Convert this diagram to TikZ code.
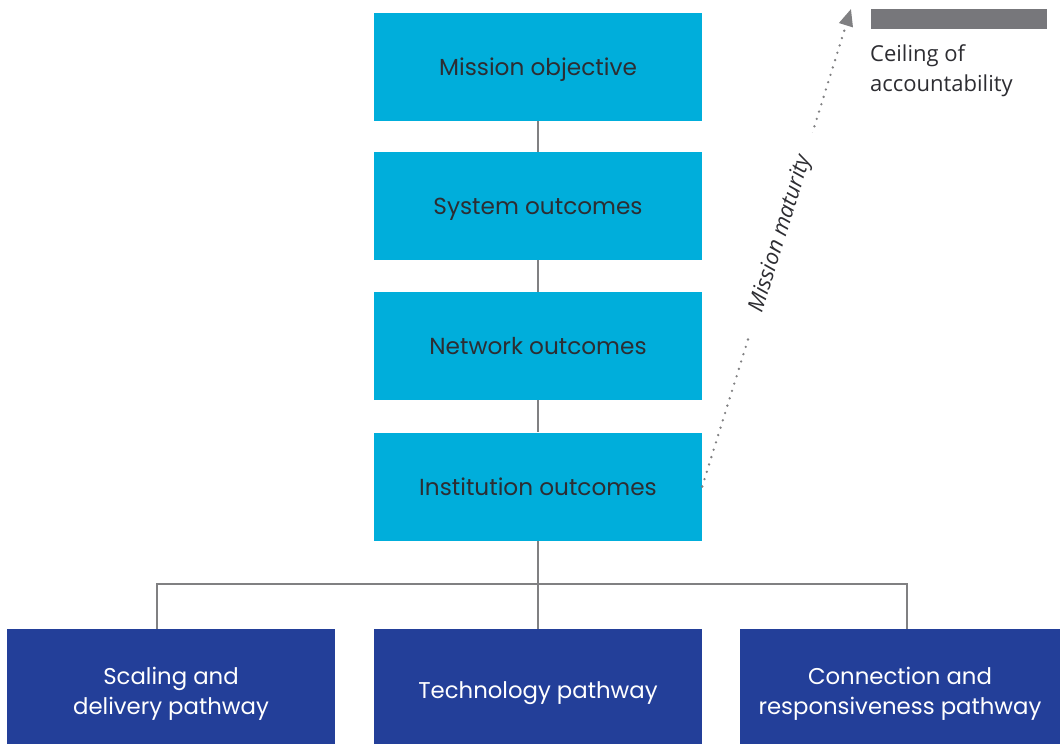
\documentclass[tikz,border=0pt]{standalone}
\usepackage{fontspec}
\setmainfont{Poppins}
\newfontfamily\labelfont{Open Sans}
\usetikzlibrary{arrows.meta}
\definecolor{lightblue}{RGB}{0,174,219}
\definecolor{darkblue}{RGB}{35,63,153}
\definecolor{conngray}{RGB}{128,128,130}
\definecolor{bargray}{RGB}{119,119,123}
\definecolor{txtgray}{RGB}{45,45,50}
\tikzset{
  upbox/.style={fill=lightblue, minimum width=328pt, minimum height=108pt, inner sep=0pt,
    text=txtgray, font=\fontsize{23.2}{26}\selectfont, align=center, text depth=0pt},
  lowbox/.style={fill=darkblue, minimum height=115pt, inner sep=0pt},
  lowtext/.style={text=white, font=\fontsize{22.8}{30}\selectfont, align=center, yshift=-7pt, inner sep=0pt},
  conn/.style={draw=conngray, line width=2.6pt},
  dotarrow/.style={draw=conngray, line width=2.6pt, line cap=round, dash pattern=on 0pt off 7.7pt,
    -{Triangle[length=17pt,width=14pt,line cap=butt]}},
}
\begin{document}
\begin{tikzpicture}[x=1pt,y=-1pt]
\useasboundingbox (0,0) rectangle (1061,744);
\node[upbox] (mo) at (538,67) {Mission objective};
\node[upbox] (so) at (538,206) {System outcomes};
\node[upbox] (no) at (538,346) {Network outcomes};
\node[upbox] (io) at (538,486.5) {Institution outcomes};
\node[lowbox, minimum width=328pt, label={[lowtext]center:{Scaling and\\delivery pathway}}] (b1) at (171,686.5) {};
\node[lowbox, minimum width=328pt, label={[lowtext]center:{Technology pathway}}] (b2) at (538,686.5) {};
\node[lowbox, minimum width=320pt, label={[lowtext]center:{Connection and\\responsiveness pathway}}] (b3) at (900,686.5) {};
\coordinate (j) at (538,584);
\draw[conn] (mo) -- (so);
\draw[conn] (so) -- (no);
\draw[conn] (no) -- (io);
\draw[conn] (io) -- (b2);
\draw[conn] ([xshift=150pt]b1.north west) |- (j) -| ([xshift=167pt]b3.north west);
\coordinate (tip) at (851,9);
\draw[dotarrow] (io.east) -- (tip)
  node[pos=0.529, sloped, fill=white, inner xsep=25pt, inner ysep=4pt, text=txtgray,
       font=\labelfont\itshape\fontsize{22}{24}\selectfont] (mm) {Mission maturity};
\node[fill=bargray, minimum width=176pt, minimum height=20pt, inner sep=0pt, anchor=north west] (bar) at (871,9) {};
\node[anchor=north west, inner sep=0pt, align=left, text=txtgray, font=\labelfont\fontsize{22}{30}\selectfont] (ceil) at (870,44.5) {Ceiling of\\accountability};
\end{tikzpicture}
\end{document}
